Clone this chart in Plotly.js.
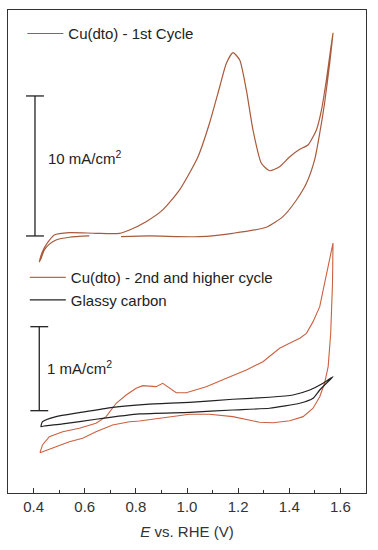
<!DOCTYPE html>
<html>
<head>
<meta charset="utf-8">
<script src="https://cdn.plot.ly/plotly-3.0.1.min.js"></script>
<style>html,body{margin:0;padding:0;background:#fff;}#chart{width:378px;height:550px;}</style>
</head>
<body>
<div id="chart"></div>
<script>
// Cu(dto) - 1st cycle (top panel, mA/cm^2 relative to scale-bar base)
var cycle1X = [0.742,0.853,1.049,1.179,1.310,1.375,1.428,1.467,1.499,1.519,1.538,1.558,1.571,
  1.565,1.545,1.526,1.506,1.473,1.441,1.402,1.362,1.323,1.291,1.258,1.232,1.206,1.180,1.154,1.128,1.088,1.043,
  0.971,0.905,0.840,0.775,0.736,0.644,0.540,0.481,0.454,0.434,0.422,0.430,0.442,0.461,0.488,0.540,0.618];
var cycle1Y = [-0.05,0,-0.05,0.19,0.62,1.38,2.57,3.76,5.43,7.34,9.48,12.34,14.48,
  13.76,11.14,9.0,7.57,6.5,6.19,5.66,4.95,4.66,5.19,7.57,10.43,12.57,13.09,12.34,10.66,8.05,5.66,
  3.29,1.86,1.02,0.43,0.19,0.19,0.24,0.07,-0.5,-1.14,-1.86,-1.57,-1.0,-0.6,-0.29,-0.09,0];

// Cu(dto) - 2nd and higher cycle (bottom panel)
var cycle2X = [0.425,0.435,0.4615,0.514,0.579,0.644,0.684,0.723,0.762,0.801,0.827,0.879,0.905,0.9315,0.958,0.997,1.049,1.075,1.154,1.232,1.297,1.336,1.362,1.401,1.441,1.467,1.493,1.519,1.538,1.555,1.565,1.571,
  1.569,1.562,1.552,1.538,1.519,1.493,1.454,1.402,1.336,1.284,1.179,1.088,1.010,0.944,0.814,0.775,0.709,0.644,0.592,0.540,0.488,0.435,0.425];
var cycle2Y = [-0.50,-0.408,-0.31,-0.25,-0.21,-0.15,-0.071,0.088,0.187,0.267,0.298,0.286,0.326,0.267,0.214,0.214,0.267,0.286,0.386,0.485,0.583,0.683,0.743,0.802,0.862,0.921,1.06,1.238,1.517,1.794,1.913,1.996,
  1.517,0.921,0.524,0.326,0.167,0.029,-0.071,-0.119,-0.143,-0.138,-0.071,-0.043,-0.043,-0.071,-0.123,-0.131,-0.17,-0.25,-0.329,-0.369,-0.429,-0.488,-0.50];

// Glassy carbon (bottom panel)
var gcX = [0.429,0.435,0.488,0.579,0.709,0.840,1.010,1.179,1.323,1.4145,1.480,1.532,1.571,
  1.558,1.519,1.493,1.441,1.323,1.179,1.010,0.814,0.644,0.514,0.442,0.429];
var gcY = [-0.19,-0.131,-0.071,-0.024,0.040,0.076,0.10,0.136,0.16,0.187,0.246,0.326,0.405,
  0.365,0.246,0.148,0.088,0.029,0.008,-0.019,-0.039,-0.102,-0.158,-0.182,-0.19];

var seriesNames = ["Cu(dto) - 1st Cycle", "Cu(dto) - 2nd and higher cycle", "Glassy carbon"];
var xTickVals = [0.4,0.6,0.8,1.0,1.2,1.4,1.6];
var xTickText = ["0.4","0.6","0.8","1.0","1.2","1.4","1.6"];
var scaleTop = [0, 10];     // mA/cm^2
var scaleBottom = [0, 1];   // mA/cm^2

var FONT = "Liberation Sans, Arial, sans-serif";
var FS = 15;

var traces = [
  {x: cycle1X, y: cycle1Y, name: seriesNames[0], type: "scatter", mode: "lines",
   line: {color: "#a85a3c", width: 1.2, shape: "spline", smoothing: 0.6}, xaxis: "x", yaxis: "y", legend: "legend"},
  {x: cycle2X, y: cycle2Y, name: seriesNames[1], type: "scatter", mode: "lines",
   line: {color: "#cc6040", width: 1.1, shape: "linear"}, xaxis: "x", yaxis: "y2", legend: "legend2"},
  {x: gcX, y: gcY, name: seriesNames[2], type: "scatter", mode: "lines",
   line: {color: "#222222", width: 1.2, shape: "spline", smoothing: 0.5}, xaxis: "x", yaxis: "y2", legend: "legend2"}
];

var capW = 0.035;
var xTopBar = 0.4055, xBotBar = 0.4223;
var shapes = [
  {type: "line", xref: "x", yref: "y", x0: xTopBar, x1: xTopBar, y0: scaleTop[0], y1: scaleTop[1], line: {color: "#222", width: 1.3}},
  {type: "line", xref: "x", yref: "y", x0: xTopBar - capW, x1: xTopBar + capW, y0: scaleTop[0], y1: scaleTop[0], line: {color: "#222", width: 1.3}},
  {type: "line", xref: "x", yref: "y", x0: xTopBar - capW, x1: xTopBar + capW, y0: scaleTop[1], y1: scaleTop[1], line: {color: "#222", width: 1.3}},
  {type: "line", xref: "x", yref: "y2", x0: xBotBar, x1: xBotBar, y0: scaleBottom[0], y1: scaleBottom[1], line: {color: "#222", width: 1.3}},
  {type: "line", xref: "x", yref: "y2", x0: xBotBar - capW, x1: xBotBar + capW, y0: scaleBottom[0], y1: scaleBottom[0], line: {color: "#222", width: 1.3}},
  {type: "line", xref: "x", yref: "y2", x0: xBotBar - capW, x1: xBotBar + capW, y0: scaleBottom[1], y1: scaleBottom[1], line: {color: "#222", width: 1.3}}
];

var annotations = [
  {xref: "x", yref: "y", x: 0.447, y: 5.64, xanchor: "left", yanchor: "middle",
   text: scaleTop[1] + " mA/cm<sup>2</sup>", showarrow: false, font: {family: FONT, size: FS, color: "#222"}},
  {xref: "x", yref: "y2", x: 0.445, y: 0.52, xanchor: "left", yanchor: "middle",
   text: scaleBottom[1] + " mA/cm<sup>2</sup>", showarrow: false, font: {family: FONT, size: FS, color: "#222"}}
];

var layout = {
  width: 378, height: 550,
  margin: {l: 8, r: 12, t: 10, b: 57},
  paper_bgcolor: "#fff", plot_bgcolor: "#fff",
  font: {family: FONT, size: FS, color: "#333"},
  xaxis: {
    range: [0.3, 1.7], tickvals: xTickVals, ticktext: xTickText,
    ticks: "inside", ticklen: 5, tickwidth: 1, tickcolor: "#333",
    minor: {ticks: "inside", ticklen: 3, dtick: 0.1, tick0: 0.3, tickcolor: "#333"},
    showline: true, mirror: true, linecolor: "#333", linewidth: 1.3,
    showgrid: false, zeroline: false,
    tickfont: {family: FONT, size: FS, color: "#333"},
    title: {text: "<i>E</i> vs. RHE (V)", font: {family: FONT, size: FS, color: "#333"}, standoff: 12}
  },
  yaxis: {
    range: [-18.36, 16.14], domain: [0, 1],
    showline: true, mirror: true, linecolor: "#333", linewidth: 1.3,
    showticklabels: false, ticks: "", showgrid: false, zeroline: false
  },
  yaxis2: {
    range: [-0.98, 4.77], overlaying: "y",
    showline: false, showticklabels: false, ticks: "", showgrid: false, zeroline: false
  },
  showlegend: true,
  legend: {x: 0.04, y: 0.985, xanchor: "left", yanchor: "top", bgcolor: "rgba(0,0,0,0)", borderwidth: 0,
           itemwidth: 36, tracegroupgap: 0,
           font: {family: FONT, size: FS, color: "#222"}},
  legend2: {x: 0.047, y: 0.48, xanchor: "left", yanchor: "top", bgcolor: "rgba(0,0,0,0)", borderwidth: 0,
            itemwidth: 36, tracegroupgap: 0,
            font: {family: FONT, size: FS, color: "#222"}, traceorder: "normal"},
  shapes: shapes,
  annotations: annotations
};

Plotly.newPlot("chart", traces, layout, {displayModeBar: false, staticPlot: true});
</script>
</body>
</html>
